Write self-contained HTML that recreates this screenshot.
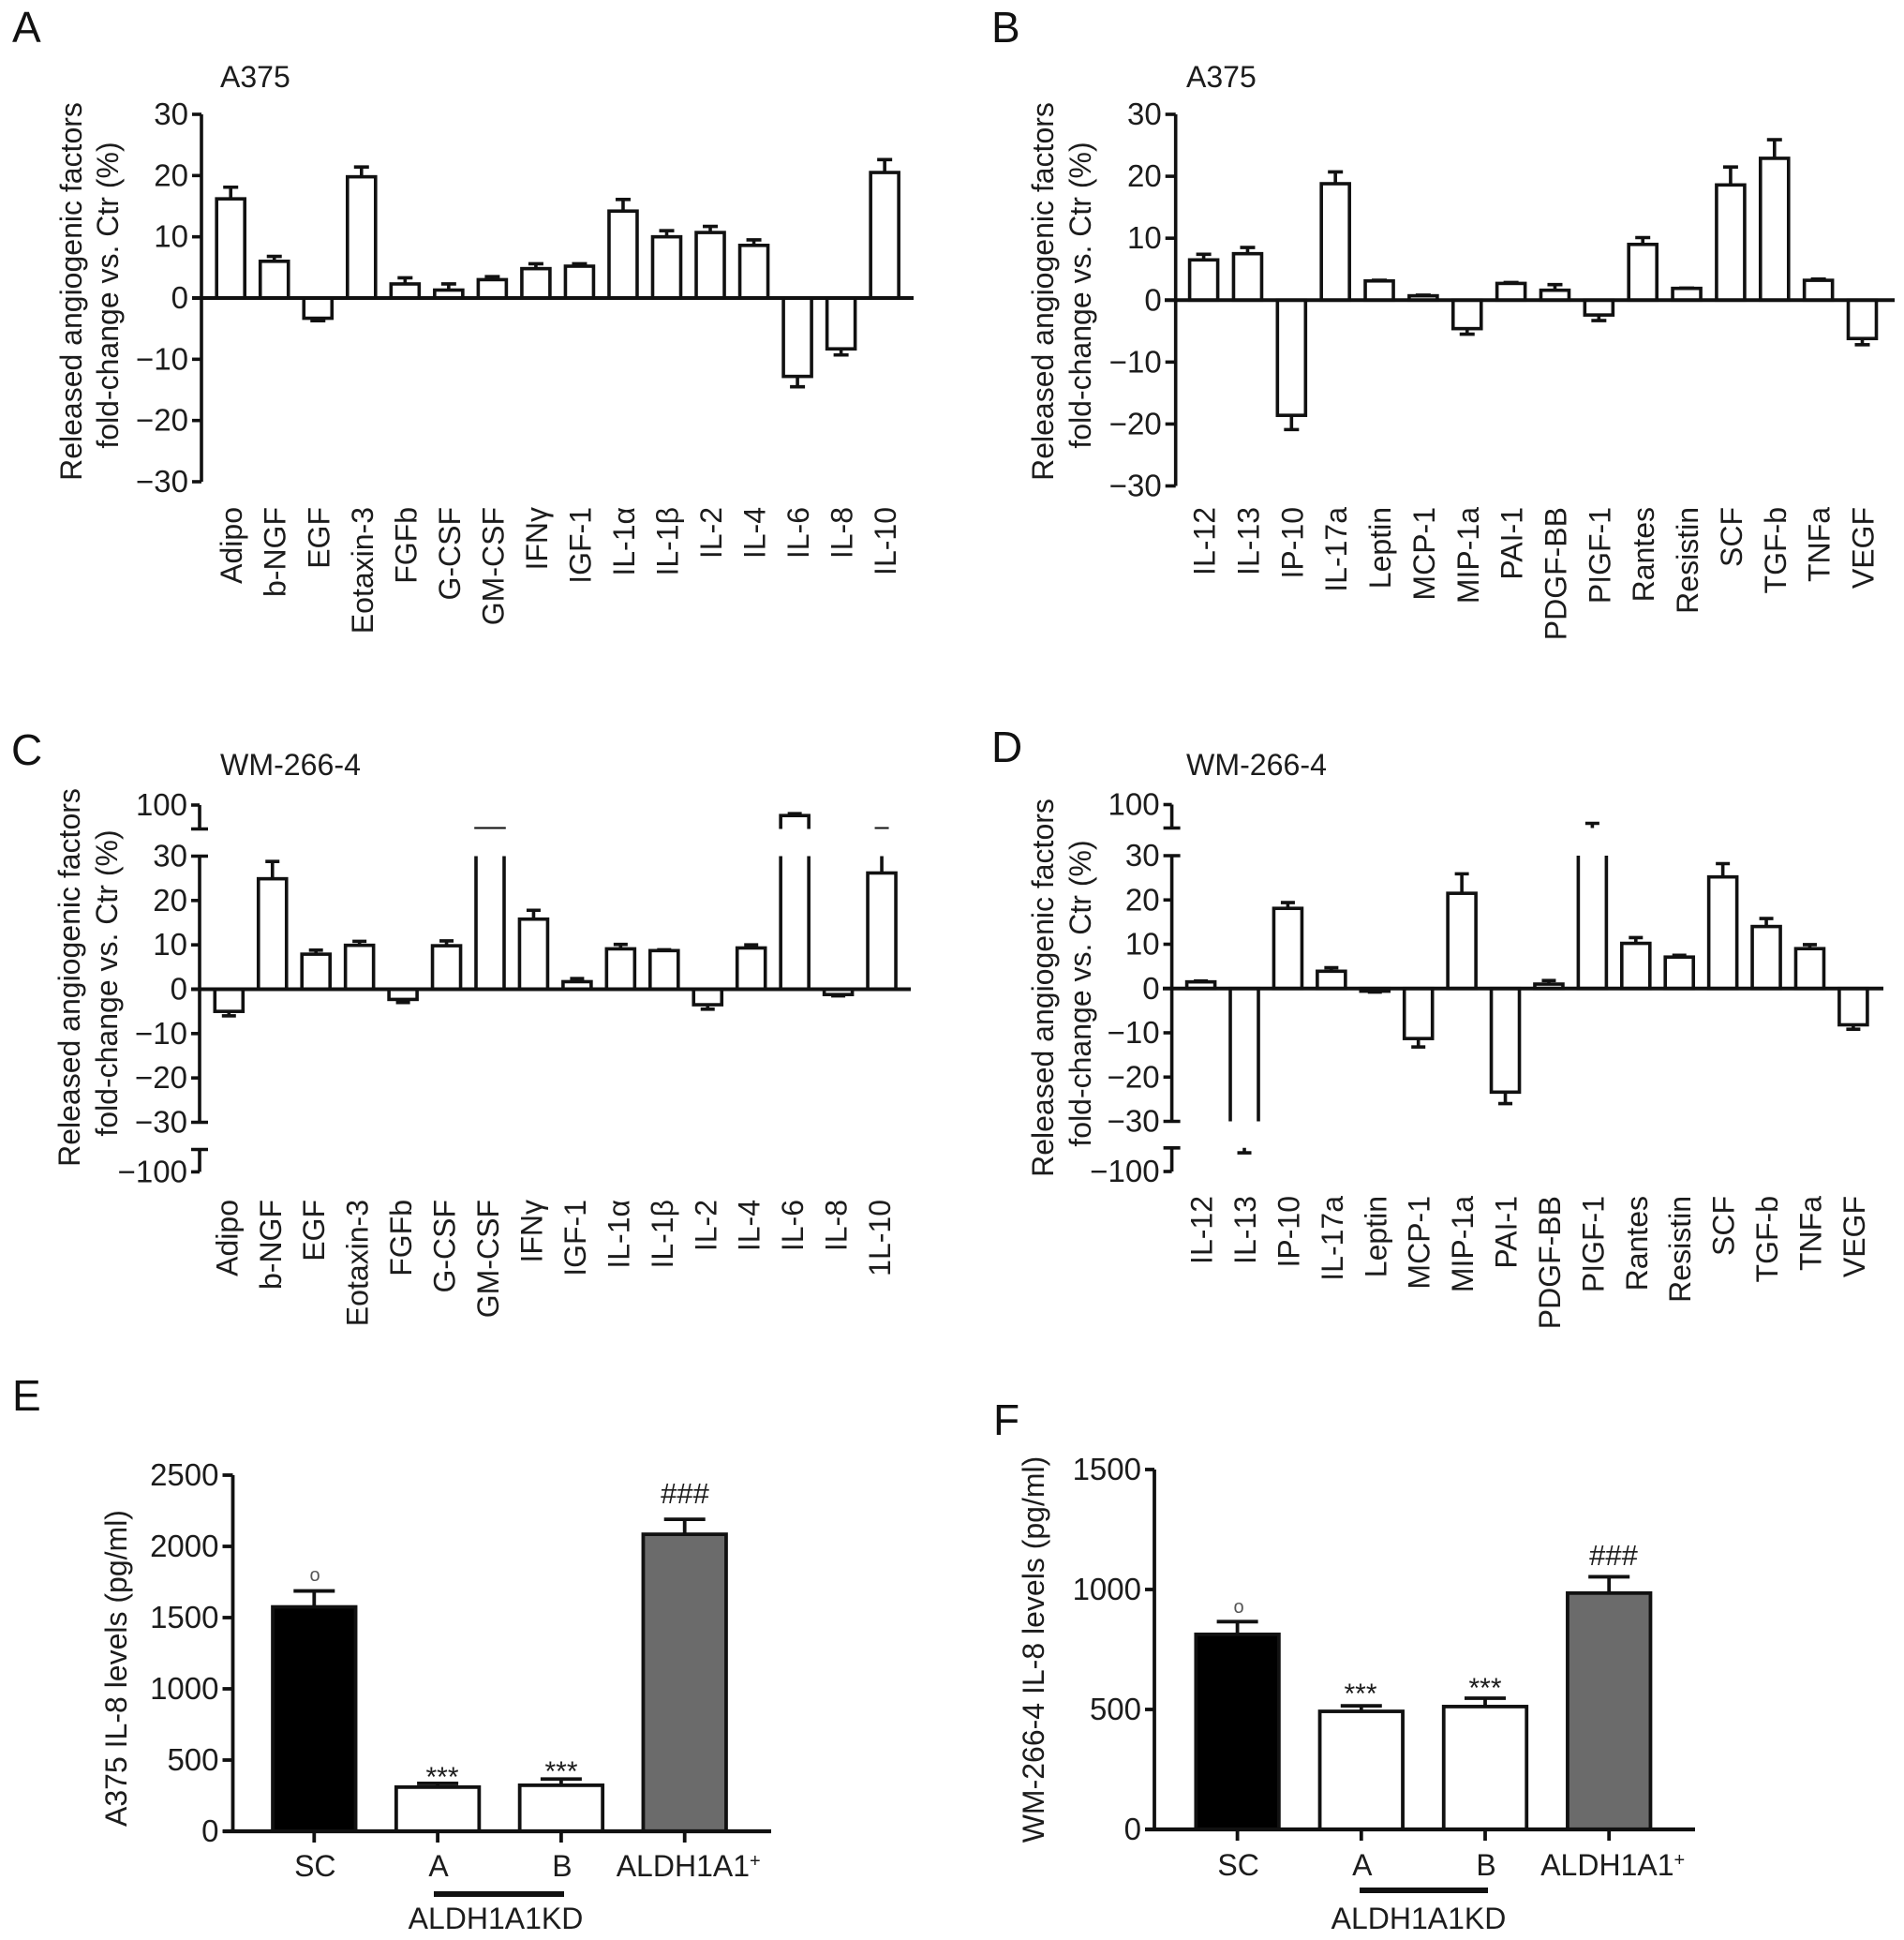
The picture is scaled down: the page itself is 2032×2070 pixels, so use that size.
<!DOCTYPE html>
<html lang="en">
<head>
<meta charset="utf-8">
<title>Angiogenic factors and IL-8 levels</title>
<style>
html,body{margin:0;padding:0;background:#fff;}
svg{display:block;}
text{font-family:"Liberation Sans",sans-serif;fill:#1c1c1c;font-size:32px;}
.letter{font-size:46px;fill:#111;}
</style>
</head>
<body>
<svg id="figure" width="2032" height="2070" viewBox="0 0 2032 2070" xmlns="http://www.w3.org/2000/svg">
  <rect width="2032" height="2070" fill="#fff"/>
  <text class="letter" x="13" y="45">A</text>
  <text class="letter" x="1058" y="45">B</text>
  <text class="letter" x="12" y="816">C</text>
  <text class="letter" x="1058" y="813">D</text>
  <text class="letter" x="13" y="1505">E</text>
  <text class="letter" x="1060" y="1531">F</text>

  <text x="235" y="93">A375</text>
  <text x="1266" y="93">A375</text>
  <text x="235" y="827" textLength="150" lengthAdjust="spacingAndGlyphs">WM-266-4</text>
  <text x="1266" y="827" textLength="150" lengthAdjust="spacingAndGlyphs">WM-266-4</text>

  <text text-anchor="middle" transform="translate(87 311) rotate(-90)">Released angiogenic factors</text>
  <text text-anchor="middle" transform="translate(126 315) rotate(-90)">fold-change vs. Ctr (%)</text>
  <text text-anchor="middle" transform="translate(1124 311) rotate(-90)">Released angiogenic factors</text>
  <text text-anchor="middle" transform="translate(1164 315) rotate(-90)">fold-change vs. Ctr (%)</text>
  <text text-anchor="middle" transform="translate(85 1043) rotate(-90)">Released angiogenic factors</text>
  <text text-anchor="middle" transform="translate(125 1049) rotate(-90)">fold-change vs. Ctr (%)</text>
  <text text-anchor="middle" transform="translate(1124 1054) rotate(-90)">Released angiogenic factors</text>
  <text text-anchor="middle" transform="translate(1164 1060) rotate(-90)">fold-change vs. Ctr (%)</text>
  <text text-anchor="middle" transform="translate(135 1780) rotate(-90)">A375 IL-8 levels (pg/ml)</text>
  <text text-anchor="middle" transform="translate(1114 1760) rotate(-90)">WM-266-4 IL-8 levels (pg/ml)</text>

  <rect x="463" y="2018" width="139" height="6" fill="#111"/>
  <text x="529" y="2058" text-anchor="middle">ALDH1A1KD</text>
  <rect x="1451" y="2014" width="137" height="6" fill="#111"/>
  <text x="1514" y="2058" text-anchor="middle">ALDH1A1KD</text>

  <text x="336" y="1687" text-anchor="middle" style="font-size:20px;fill:#555">o</text>
  <text x="472" y="1906" text-anchor="middle" style="font-size:30px">***</text>
  <text x="599" y="1900" text-anchor="middle" style="font-size:30px">***</text>
  <text x="731" y="1604" text-anchor="middle" style="font-size:31px">###</text>
  <text x="1322" y="1721" text-anchor="middle" style="font-size:20px;fill:#555">o</text>
  <text x="1452" y="1817" text-anchor="middle" style="font-size:30px">***</text>
  <text x="1585" y="1811" text-anchor="middle" style="font-size:30px">***</text>
  <text x="1722" y="1670" text-anchor="middle" style="font-size:31px">###</text>

  <g id="charts"></g>
</svg>
<script>
const panelACategories = ["Adipo","b-NGF","EGF","Eotaxin-3","FGFb","G-CSF","GM-CSF","IFNγ","IGF-1","IL-1α","IL-1β","IL-2","IL-4","IL-6","IL-8","IL-10"];
const panelAValues = [16.2,6.0,-3.3,19.8,2.3,1.3,3.0,4.8,5.2,14.2,10.0,10.7,8.6,-12.8,-8.3,20.5];
const panelAErrors = [1.9,0.8,0.4,1.6,1.0,1.0,0.5,0.8,0.4,1.9,1.0,1.0,0.9,1.7,1.0,2.1];
const panelATicks = [30,20,10,0,-10,-20,-30];

const panelBCategories = ["IL-12","IL-13","IP-10","IL-17a","Leptin","MCP-1","MIP-1a","PAI-1","PDGF-BB","PIGF-1","Rantes","Resistin","SCF","TGF-b","TNFa","VEGF"];
const panelBValues = [6.5,7.5,-18.6,18.8,3.1,0.7,-4.6,2.7,1.6,-2.4,9.0,1.9,18.6,22.9,3.2,-6.2];
const panelBErrors = [0.9,1.0,2.3,1.9,0.1,0.1,0.9,0.15,0.9,0.9,1.1,0.05,2.9,3.0,0.2,1.0];
const panelBTicks = [30,20,10,0,-10,-20,-30];

const panelCCategories = ["Adipo","b-NGF","EGF","Eotaxin-3","FGFb","G-CSF","GM-CSF","IFNγ","IGF-1","IL-1α","IL-1β","IL-2","IL-4","IL-6","IL-8","1L-10"];
const panelCValues = [-5.0,24.9,7.9,9.9,-2.3,9.8,50.5,15.8,1.7,9.1,8.7,-3.5,9.3,78,-1.2,26.2];
const panelCErrors = [1.0,3.9,0.9,0.9,0.7,1.1,0,2.0,0.7,1.0,0.2,1.0,0.7,4,0.3,24.3];
const panelCTicks = [100,30,20,10,0,-10,-20,-30,-100];

const panelDCategories = ["IL-12","IL-13","IP-10","IL-17a","Leptin","MCP-1","MIP-1a","PAI-1","PDGF-BB","PIGF-1","Rantes","Resistin","SCF","TGF-b","TNFa","VEGF"];
const panelDValues = [1.5,-45,18.1,3.9,-0.6,-11.3,21.5,-23.4,1.0,45,10.2,7.1,25.2,14.0,9.0,-8.2];
const panelDErrors = [0.2,15.4,1.3,0.8,0.2,1.9,4.4,2.6,0.8,15,1.3,0.4,3.0,1.8,0.9,1.0];
const panelDTicks = [100,30,20,10,0,-10,-20,-30,-100];

const panelECategories = ["SC","A","B","ALDH1A1"];
const panelEValues = [1575,310,323,2085];
const panelEErrors = [112,26,44,105];
const panelETicks = [2500,2000,1500,1000,500,0];

const panelFCategories = ["SC","A","B","ALDH1A1"];
const panelFValues = [813,492,512,985];
const panelFErrors = [53,23,35,68];
const panelFTicks = [1500,1000,500,0];

const NS = "http://www.w3.org/2000/svg";
const root = document.getElementById("charts");
const INK = "#111";

function svgEl(tag, attrs, parent) {
  const node = document.createElementNS(NS, tag);
  for (const k in attrs) node.setAttribute(k, attrs[k]);
  parent.appendChild(node);
  return node;
}

function makeYScale(anchors) {
  return function (v) {
    for (let i = 0; i < anchors.length - 1; i++) {
      const a = anchors[i], b = anchors[i + 1];
      if (v <= b[0] || i === anchors.length - 2) {
        return a[1] + (v - a[0]) * (b[1] - a[1]) / (b[0] - a[0]);
      }
    }
  };
}

function drawYAxis(g, cfg, y, ticks) {
  const sw = cfg.stroke;
  cfg.axisSegments.forEach(function (seg) {
    const el = svgEl("line", {x1: cfg.axisX, x2: cfg.axisX, y1: y(seg[0]), y2: y(seg[1]), stroke: INK, "stroke-width": sw}, g);
    
    
  });
  ticks.forEach(function (t) {
    const isBreak = cfg.breakEnds.indexOf(t) >= 0;
    const tick = svgEl("line", {x1: cfg.axisX - cfg.tickLen, x2: cfg.axisX + (isBreak ? 9 : 0), y1: y(t), y2: y(t), stroke: INK, "stroke-width": sw}, g);
    
    
    const label = svgEl("text", {x: cfg.axisX - cfg.tickLen - 4, y: y(t) + 11, "text-anchor": "end", style: "font-size:33px"}, g);
    
    
    label.textContent = String(t).replace("-", "\u2212");
  });
  cfg.breakEnds.forEach(function (t) {
    if (ticks.indexOf(t) >= 0) return;
    const tick = svgEl("line", {x1: cfg.axisX - 9, x2: cfg.axisX + 9, y1: y(t), y2: y(t), stroke: INK, "stroke-width": sw}, g);
    
    
  });
}

function drawBars(g, cfg, y, values, errors) {
  const zero = y(0);
  values.forEach(function (v, i) {
    const cx = cfg.firstX + i * cfg.stepX;
    const e = errors[i];
    const tip = y(v + (v >= 0 ? e : -e));
    const top = y(v);
    const stem = svgEl("line", {x1: cx, x2: cx, y1: top, y2: tip, stroke: INK, "stroke-width": cfg.stroke}, g);
    
    
    const cap = svgEl("line", {x1: cx - cfg.capW / 2, x2: cx + cfg.capW / 2, y1: tip, y2: tip, stroke: INK, "stroke-width": cfg.stroke}, g);
    
    
    const fill = cfg.fills ? cfg.fills[i] : "#fff";
    const bar = svgEl("rect", {x: cx - cfg.barW / 2, y: Math.min(top, zero), width: cfg.barW, height: Math.abs(zero - top), fill: fill, stroke: INK, "stroke-width": cfg.stroke}, g);
    
    
  });
}

function drawPanel(cfg, categories, values, errors, ticks) {
  const g = svgEl("g", {}, root);
  
  
  const y = makeYScale(cfg.anchors);
  const clipId = "clip-" + cfg.id;
  const clip = svgEl("clipPath", {id: clipId}, g);
  
  
  cfg.bands.forEach(function (b) {
    const r = svgEl("rect", {x: cfg.axisX, y: b[0], width: 2032, height: b[1] - b[0]}, clip);
    
    
  });
  const marks = svgEl("g", {"clip-path": "url(#" + clipId + ")"}, g);
  
  
  drawBars(marks, cfg, y, values, errors);

  drawYAxis(g, cfg, y, ticks);

  const base = svgEl("line", {x1: cfg.baseX1, x2: cfg.baseX2, y1: y(0), y2: y(0), stroke: INK, "stroke-width": cfg.stroke + 0.5}, g);
  
  

  categories.forEach(function (c, i) {
    const cx = cfg.firstX + i * cfg.stepX;
    if (cfg.rotate) {
      const t = svgEl("text", {"text-anchor": "end", transform: "translate(" + (cx - cfg.labelShift + 11) + " " + cfg.labelY + ") rotate(-90)"}, g);
      
      
      t.textContent = c;
    } else {
      const tk = svgEl("line", {x1: cx, x2: cx, y1: y(0), y2: y(0) + 12, stroke: INK, "stroke-width": cfg.stroke}, g);
      
      
      const t = svgEl("text", {x: cx + (i === categories.length - 1 ? 4 : 1), y: cfg.labelY, "text-anchor": "middle"}, g);
      
      
      t.textContent = c;
      if (c === "ALDH1A1") {
        const sup = svgEl("tspan", {dy: -10, style: "font-size:20px"}, t);
        
        
        sup.textContent = "+";
      }
    }
  });
}

drawPanel({id: "a", axisX: 215, tickLen: 10, stroke: 3.6, firstX: 246.2, stepX: 46.53, barW: 30, capW: 16,
  anchors: [[-30, 514], [30, 122]], axisSegments: [[-30, 30]], breakEnds: [], bands: [[100, 540]],
  baseX1: 205, baseX2: 975, rotate: true, labelY: 541, labelShift: -1},
  panelACategories, panelAValues, panelAErrors, panelATicks);

drawPanel({id: "b", axisX: 1254.7, tickLen: 11, stroke: 3.6, firstX: 1284.6, stepX: 46.86, barW: 30, capW: 16,
  anchors: [[-30, 518.5], [30, 122]], axisSegments: [[-30, 30]], breakEnds: [], bands: [[100, 540]],
  baseX1: 1243, baseX2: 2022, rotate: true, labelY: 541, labelShift: -1},
  panelBCategories, panelBValues, panelBErrors, panelBTicks);

drawPanel({id: "c", axisX: 213, tickLen: 9, stroke: 3.6, firstX: 244.3, stepX: 46.45, barW: 30, capW: 15,
  anchors: [[-100, 1250.4], [-50, 1226.5], [-30, 1197.5], [30, 913.5], [50, 884.5], [100, 859]],
  axisSegments: [[-100, -50], [-30, 30], [50, 100]], breakEnds: [-50, -30, 30, 50], bands: [[840, 884.5], [913.5, 1197.5], [1226.5, 1280]],
  baseX1: 204, baseX2: 972, rotate: true, labelY: 1280, labelShift: 2},
  panelCCategories, panelCValues, panelCErrors, panelCTicks);

drawPanel({id: "d", axisX: 1250.6, tickLen: 9, stroke: 3.6, firstX: 1281.6, stepX: 46.42, barW: 30, capW: 15,
  anchors: [[-100, 1250], [-50, 1224.8], [-30, 1196.5], [30, 913], [50, 883.5], [100, 858.5]],
  axisSegments: [[-100, -50], [-30, 30], [50, 100]], breakEnds: [-50, -30, 30, 50], bands: [[840, 883.5], [913, 1196.5], [1224.8, 1280]],
  baseX1: 1241, baseX2: 2010, rotate: true, labelY: 1276, labelShift: -1},
  panelDCategories, panelDValues, panelDErrors, panelDTicks);

drawPanel({id: "e", axisX: 248.5, tickLen: 11, stroke: 3.8, firstX: 335.3, stepX: 131.8, barW: 88.5, capW: 44,
  fills: ["#000", "#fff", "#fff", "#6b6b6b"],
  anchors: [[0, 1954], [2500, 1574]], axisSegments: [[0, 2500]], breakEnds: [], bands: [[1500, 2000]],
  baseX1: 238, baseX2: 823, rotate: false, labelY: 2002},
  panelECategories, panelEValues, panelEErrors, panelETicks);

drawPanel({id: "f", axisX: 1232, tickLen: 10, stroke: 3.8, firstX: 1320.6, stepX: 132.2, barW: 88.5, capW: 44,
  fills: ["#000", "#fff", "#fff", "#6b6b6b"],
  anchors: [[0, 1952], [1500, 1568]], axisSegments: [[0, 1500]], breakEnds: [], bands: [[1500, 2000]],
  baseX1: 1222, baseX2: 1809, rotate: false, labelY: 2001},
  panelFCategories, panelFValues, panelFErrors, panelFTicks);
</script>
</body>
</html>
